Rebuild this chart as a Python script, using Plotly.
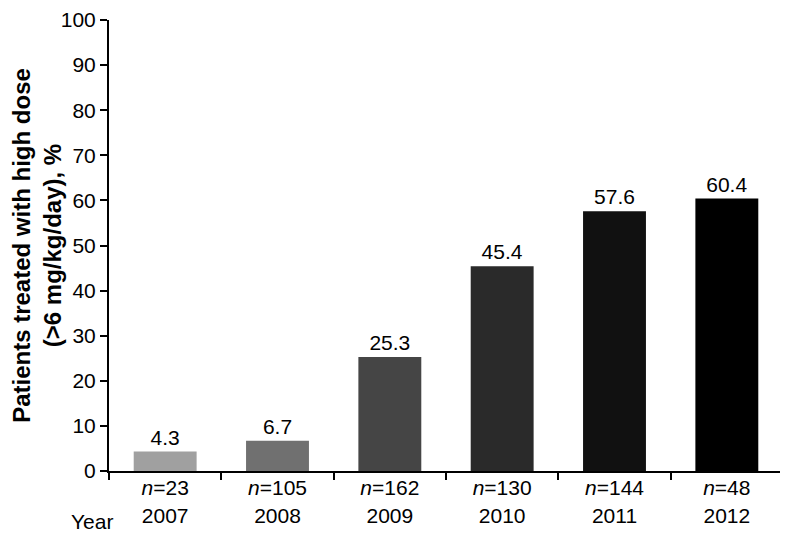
import plotly.graph_objects as go

years = ["2007", "2008", "2009", "2010", "2011", "2012"]
n_values = [23, 105, 162, 130, 144, 48]
pct_high_dose = [4.3, 6.7, 25.3, 45.4, 57.6, 60.4]
bar_colors = ["#a0a0a0", "#707070", "#454545", "#2a2a2a", "#111111", "#000000"]

FONT = "Liberation Sans, Arial, sans-serif"

tick_text = [f"<i>n</i>={n}<br>{y}" for n, y in zip(n_values, years)]

fig = go.Figure()
fig.add_trace(go.Bar(
    x=years, y=pct_high_dose,
    marker=dict(color=bar_colors, line=dict(width=0)),
    text=[f"{v:.1f}" for v in pct_high_dose],
    textposition="outside", textfont=dict(size=21, color="black", family=FONT),
    cliponaxis=False, width=0.56,
))

# page body has an 8px margin, so the figure is a bit smaller than the window
fig.update_layout(
    width=780, height=526,
    margin=dict(l=101, r=5, t=12, b=63),
    plot_bgcolor="white", paper_bgcolor="white",
    font=dict(family=FONT, size=21, color="black"),
    showlegend=False,
    bargap=0.44,
)
fig.update_xaxes(
    tickmode="array", tickvals=years, ticktext=tick_text,
    tickson="boundaries", ticks="outside", ticklen=7, tickwidth=2, tickcolor="black",
    showline=True, linecolor="black", linewidth=2, automargin=False,
    showgrid=False, tickfont=dict(size=21), ticklabelstandoff=-3,
)
fig.update_yaxes(
    range=[0, 100], dtick=10, ticks="outside", ticklen=7, tickwidth=2, tickcolor="black",
    showline=True, linecolor="black", linewidth=2, showgrid=False, zeroline=False,
    tickfont=dict(size=21), ticklabeloverflow="allow", automargin=False,
    title=dict(text="<b>Patients treated with high dose<br>(>6 mg/kg/day), %</b>",
               font=dict(size=24), standoff=10),
)
fig.add_annotation(
    text="Year", xref="paper", yref="paper", x=-0.025, y=-0.112,
    xanchor="center", yanchor="middle", showarrow=False, font=dict(size=21),
)

fig.write_html("out.html")
